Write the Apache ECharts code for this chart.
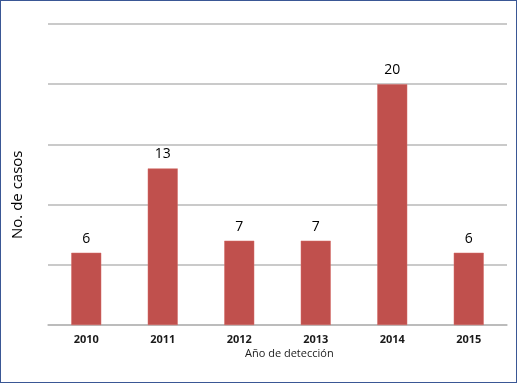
<!DOCTYPE html>
<html>
<head>
<meta charset="utf-8">
<script src="https://cdn.jsdelivr.net/npm/echarts@6/dist/echarts.min.js"></script>
<style>
    html, body { margin: 0; padding: 0; background: #fff; }
    #chart {
        width: 517px; height: 383px;
        box-sizing: border-box;
        border: 1px solid #3a5795;
    }
</style>
</head>
<body>
<div id="chart"></div>
<script>
const years = ['2010', '2011', '2012', '2013', '2014', '2015'];
const cases = [6, 13, 7, 7, 20, 6];
const yMax = 25;
const yStep = 5;

const myChart = echarts.init(document.getElementById('chart'));
const option = {
    animation: false,
    grid: {
        top: 23,
        right: 9,
        bottom: 57,
        left: 47
    },
    xAxis: {
        type: 'category',
        data: years,
        axisLine: {
            lineStyle: { color: '#b8b8b8', width: 1.5 }
        },
        axisTick: { show: false },
        // años
        axisLabel: {
            color: '#1a1a1a',
            fontFamily: 'Open Sans',
            fontWeight: 'bold',
            fontSize: 11,
            margin: 9
        }
    },
    yAxis: {
        type: 'value',
        min: 0,
        max: yMax,
        interval: yStep,
        axisLabel: { show: false },
        axisLine: { show: false },
        axisTick: { show: false },
        splitLine: {
            lineStyle: { color: '#b8b8b8', width: 1.5 }
        }
    },
    graphic: [
        {
            type: 'text',
            left: 244,
            top: 347,
            style: {
                text: 'Año de detección',
                font: '11px "Open Sans"',
                fill: '#1a1a1a'
            }
        },
        {
            type: 'text',
            x: 9,
            y: 238,
            rotation: Math.PI / 2,
            style: {
                text: 'No. de casos',
                font: '15px "Open Sans"',
                fill: '#000',
                align: 'left',
                verticalAlign: 'top'
            },
            originX: 0,
            originY: 0
        }
    ],
    series: [{
        type: 'bar',
        data: cases,
        barWidth: 30,
        itemStyle: {
            color: '#c0504d',
            borderColor: '#d46a67',
            borderWidth: 0.5
        },
        label: {
            show: true,
            position: 'top',
            distance: 7,
            color: '#000',
            fontFamily: 'Open Sans',
            fontSize: 14
        }
    }]
};
myChart.setOption(option);
</script>
</body>
</html>
